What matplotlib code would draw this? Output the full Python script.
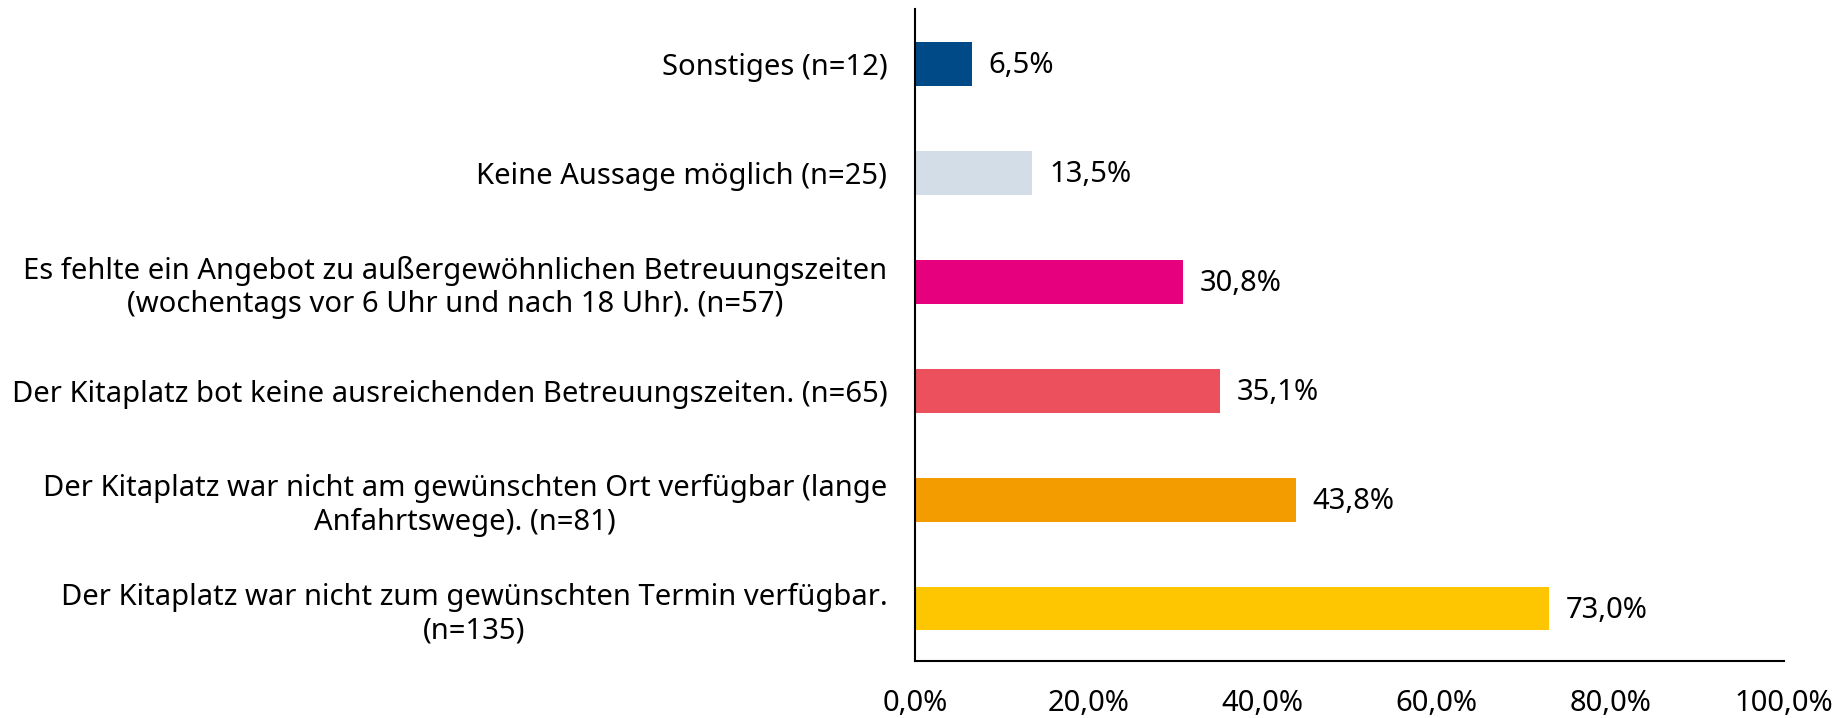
import matplotlib
matplotlib.use("Agg")
import matplotlib.pyplot as plt
from matplotlib.ticker import FuncFormatter

# Gruende (von unten nach oben wie im Diagramm)
labels = [
    "Der Kitaplatz war nicht zum gewünschten Termin verfügbar.\n(n=135)",
    "Der Kitaplatz war nicht am gewünschten Ort verfügbar (lange\nAnfahrtswege). (n=81)",
    "Der Kitaplatz bot keine ausreichenden Betreuungszeiten. (n=65)",
    "Es fehlte ein Angebot zu außergewöhnlichen Betreuungszeiten\n(wochentags vor 6 Uhr und nach 18 Uhr). (n=57)",
    "Keine Aussage möglich (n=25)",
    "Sonstiges (n=12)",
]
values = [73.0, 43.8, 35.1, 30.8, 13.5, 6.5]
colors = ["#FDC600", "#F39C00", "#EB505C", "#E6007E", "#D2DDE8", "#004B87"]
xticks = [0, 20, 40, 60, 80, 100]

plt.rcParams["font.family"] = ["Noto Sans", "DejaVu Sans"]

fig = plt.figure(figsize=(18.4, 7.18), dpi=100)
ax = fig.add_axes([0.4973, 0.0794, 0.4723, 0.9076])

pos = list(range(len(values)))
ax.barh(pos, values, height=0.4, color=colors)

# Wertebeschriftung rechts neben den Balken
for p, v in zip(pos, values):
    ax.annotate(f"{v:.1f}%".replace(".", ","), (v, p), xytext=(12, -1),
                textcoords="offset points", va="center", ha="left", fontsize=21)

ax.set_xlim(0, 100)
ax.set_ylim(-0.48, 5.5)
ax.set_xticks(xticks)
ax.xaxis.set_major_formatter(FuncFormatter(lambda x, _: f"{x:.1f}%".replace(".", ",")))
ax.set_yticks(pos)
ax.set_yticklabels(labels, multialignment="center")

ax.tick_params(axis="both", length=0, labelsize=21)
ax.tick_params(axis="x", pad=20)
ax.tick_params(axis="y", pad=20)

for side in ["top", "right"]:
    ax.spines[side].set_visible(False)
for side in ["left", "bottom"]:
    ax.spines[side].set_linewidth(1.5)

fig.savefig("out.png", dpi=100)
